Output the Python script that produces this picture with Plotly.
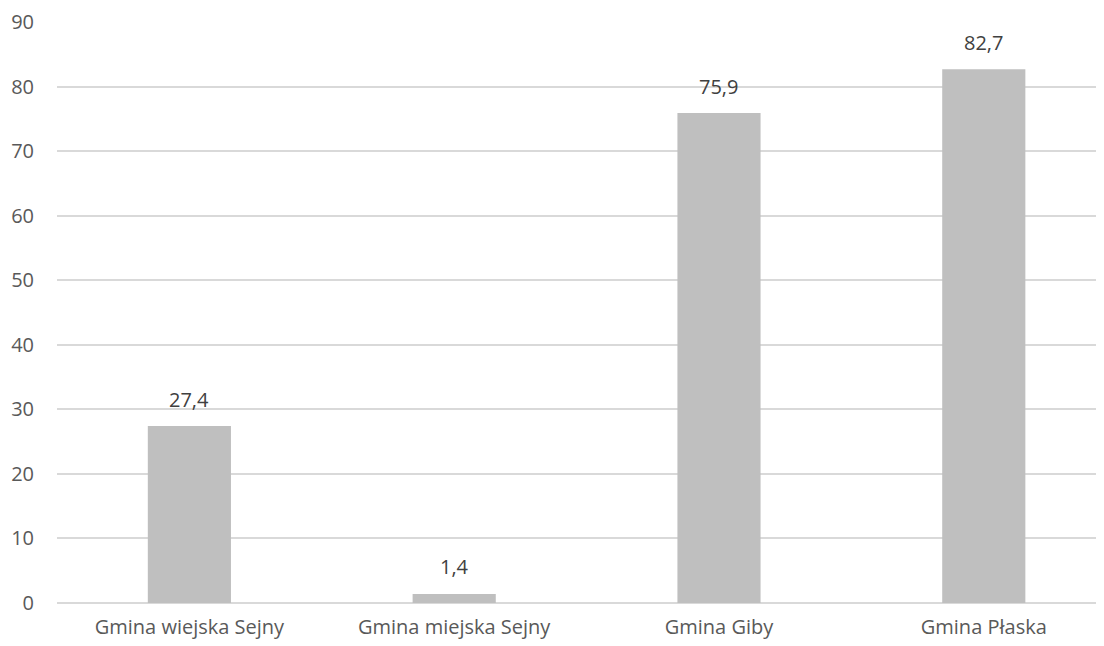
import plotly.graph_objects as go

categories = ["Gmina wiejska Sejny", "Gmina miejska Sejny", "Gmina Giby", "Gmina Płaska"]
values = [27.4, 1.4, 75.9, 82.7]
y_ticks = [0, 10, 20, 30, 40, 50, 60, 70, 80, 90]

font_family = "Open Sans, Noto Sans, sans-serif"

fig = go.Figure()
fig.add_trace(go.Bar(
    x=categories,
    y=values,
    marker=dict(color="#bfbfbf", line=dict(width=0)),
    width=0.314,
    hoverinfo="skip",
))

for c, v in zip(categories, values):
    fig.add_annotation(
        x=c, y=v, text=f"{v:.1f}".replace(".", ","),
        showarrow=False, yshift=27, yanchor="middle",
        font=dict(family=font_family, size=20, color="#404040"),
    )

fig.update_layout(
    width=1104, height=646,
    margin=dict(l=49, r=8, t=14, b=51, autoexpand=False),
    plot_bgcolor="white", paper_bgcolor="white",
    showlegend=False,
    separators=", ",
    font=dict(family=font_family, size=20, color="#595959"),
    xaxis=dict(
        type="category", range=[-0.5, 3.454],
        showgrid=False, showline=False, zeroline=False,
        ticks="", ticklabelstandoff=10, automargin=False,
        tickfont=dict(size=20, color="#595959"),
    ),
    yaxis=dict(
        range=[0, 90], tickvals=y_ticks,
        showgrid=True, gridcolor="#d9d9d9", gridwidth=1.5,
        zeroline=True, zerolinecolor="#d9d9d9", zerolinewidth=1.5,
        showline=False, ticks="", ticklabelstandoff=22, automargin=False,
        tickfont=dict(size=20, color="#595959"),
    ),
)

fig.write_html("out.html")
